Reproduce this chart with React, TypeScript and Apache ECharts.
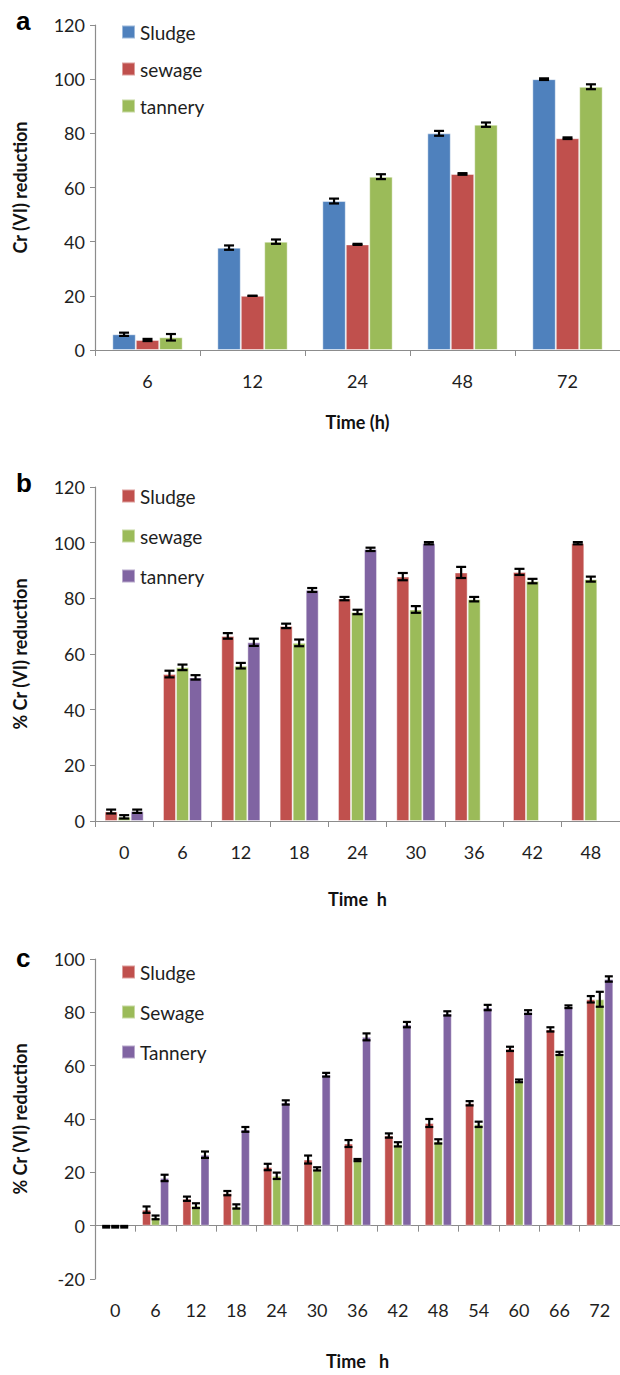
import React, { useEffect, useRef } from "react";
import * as echarts from "echarts";

// ---------- Panel a ----------
const categoriesA = ["6", "12", "24", "48", "72"];
const namesA = ["Sludge", "sewage", "tannery"];
const sludgeA = [5.8, 37.8, 55, 80, 100];
const sewageA = [3.7, 20, 39, 65, 78.2];
const tanneryA = [4.7, 40, 64, 83.2, 97.2];
const sludgeErrA = [0.6, 0.8, 0.9, 0.9, 0.3];
const sewageErrA = [0.4, 0, 0.2, 0.3, 0.3];
const tanneryErrA = [1.2, 0.8, 0.9, 0.8, 0.9];

// ---------- Panel b ----------
const categoriesB = ["0", "6", "12", "18", "24", "30", "36", "42", "48"];
const namesB = ["Sludge", "sewage", "tannery"];
const sludgeB = [3.4, 52.8, 66.5, 70.1, 79.9, 87.8, 89.3, 89.5, 99.8];
const sewageB = [1.5, 55.2, 55.8, 64, 75.1, 76, 79.7, 86.2, 86.9];
const tanneryB: (number | null)[] = [3.5, 51.6, 64.2, 83, 97.6, 99.8, null, null, null];
const sludgeErrB = [0.7, 1.2, 1.0, 0.8, 0.6, 1.3, 2.0, 1.1, 0.4];
const sewageErrB = [0.6, 1.0, 1.0, 1.2, 0.8, 1.2, 0.8, 0.8, 0.9];
const tanneryErrB: (number | null)[] = [0.6, 0.8, 1.3, 0.7, 0.6, 0.4, null, null, null];

// ---------- Panel c ----------
const categoriesC = ["0", "6", "12", "18", "24", "30", "36", "42", "48", "54", "60", "66", "72"];
const namesC = ["Sludge", "Sewage", "Tannery"];
const sludgeC = [-0.4, 6, 10.1, 12.2, 22, 24.8, 30.8, 33.8, 38.5, 45.9, 66.3, 73.6, 84.9];
const sewageC = [-0.4, 3.1, 7.5, 7.2, 18.7, 21.3, 24.6, 30.5, 31.6, 38, 54.3, 64.6, 84.9];
const tanneryC = [-0.4, 17.9, 26.6, 36.1, 46.2, 56.6, 70.8, 75.4, 79.6, 81.8, 80.1, 82.1, 92.5];
const sludgeErrC = [0.3, 1.2, 0.8, 0.8, 1.2, 1.5, 1.3, 0.8, 1.5, 0.8, 0.8, 0.8, 1.2];
const sewageErrC = [0.3, 0.7, 0.9, 0.8, 1.2, 0.6, 0.4, 0.8, 0.8, 1.0, 0.5, 0.6, 2.8];
const tanneryErrC = [0.3, 1.2, 1.2, 0.9, 0.8, 0.7, 1.3, 1.0, 0.8, 1.0, 0.7, 0.5, 1.0];

const BLUE = "#4F81BD";
const RED = "#C0504D";
const GREEN = "#9BBB59";
const PURPLE = "#8064A2";
const FONT = "Lato";
const AXIS = "#8C8C8C";
const TXT = "#1E1E1E";

const GAP = 0.33;

interface PanelCfg {
  categories: string[];
  names: string[];
  colors: string[];
  values: (number | null)[][];
  errors: (number | null)[][];
  yMin: number;
  yMax: number;
  gridTop: number;
  gridHeight: number;
  legendTop: number;
  legendGap: number;
  xName: string;
  yName: string;
  xNameGap: number;
  letter: string;
  letterY: number;
  capHalf: number;
}

function buildOption(p: PanelCfg): any {
  const series: any[] = [];
  p.values.forEach((vals, si) => {
    series.push({
      type: "bar",
      name: p.names[si],
      data: vals,
      barGap: "0%",
      barCategoryGap: GAP * 100 + "%",
      itemStyle: { color: p.colors[si], borderColor: "rgba(255,255,255,0.45)", borderWidth: 1 },
      z: 2,
    });
  });
  p.values.forEach((vals, si) => {
    const data: any[] = [];
    vals.forEach((v, i) => {
      const e = p.errors[si][i];
      if (v !== null && v !== undefined) data.push([i, v, e ?? 0]);
    });
    series.push({
      type: "custom",
      data,
      encode: { x: 0, y: 1 },
      z: 5,
      silent: true,
      renderItem: (params: any, api: any) => {
        const cat = api.value(0);
        const v = api.value(1);
        const e = api.value(2);
        const band = api.size([1, 0])[0];
        const bw = (band * (1 - GAP)) / 3;
        const c = api.coord([cat, v]);
        const x = c[0] + (si - 1) * bw;
        const yt = api.coord([cat, v + e])[1];
        const yb = api.coord([cat, v - e])[1];
        const h = p.capHalf;
        const st = { stroke: "#000", lineWidth: 2.2 };
        return {
          type: "group",
          children: [
            { type: "line", shape: { x1: x, y1: yt, x2: x, y2: yb }, style: st },
            { type: "line", shape: { x1: x - h, y1: yt, x2: x + h, y2: yt }, style: st },
            { type: "line", shape: { x1: x - h, y1: yb, x2: x + h, y2: yb }, style: st },
          ],
        };
      },
    });
  });

  return {
    animation: false,
    textStyle: { fontFamily: FONT },
    grid: { left: 95, width: 525, top: p.gridTop, height: p.gridHeight },
    legend: {
      data: p.names,
      orient: "vertical",
      left: 116,
      top: p.legendTop,
      itemGap: p.legendGap,
      itemWidth: 13,
      itemHeight: 13,
      icon: "rect",
      selectedMode: false,
      textStyle: { fontFamily: FONT, fontSize: 19, color: TXT, lineHeight: 20 },
    },
    xAxis: {
      type: "category",
      data: p.categories,
      name: p.xName,
      nameLocation: "middle",
      nameGap: p.xNameGap,
      nameTextStyle: { fontFamily: FONT, fontSize: 18, fontWeight: "bold", color: "#111" },
      axisLine: { show: true, onZero: true, lineStyle: { color: AXIS, width: 1.2 } },
      axisTick: { show: true, length: 6, interval: 0, lineStyle: { color: AXIS } },
      axisLabel: { fontFamily: FONT, fontSize: 18, color: TXT, margin: 22, interval: 0 },
    },
    yAxis: {
      type: "value",
      min: p.yMin,
      max: p.yMax,
      interval: 20,
      name: p.yName,
      nameLocation: "middle",
      nameRotate: 90,
      nameGap: 66,
      nameTextStyle: { fontFamily: FONT, fontSize: 18, fontWeight: "bold", color: "#111" },
      axisLine: { show: true, lineStyle: { color: AXIS, width: 1.2 } },
      axisTick: { show: true, length: 5, lineStyle: { color: AXIS } },
      axisLabel: { fontFamily: FONT, fontSize: 18, color: TXT, margin: 10 },
      splitLine: { show: false },
    },
    graphic: [
      {
        type: "text",
        left: 16,
        top: p.letterY,
        style: { text: p.letter, font: 'bold 26px "Liberation Sans"', fill: "#000" },
      },
    ],
    series,
  };
}

const panels: { top: number; height: number; cfg: PanelCfg }[] = [
  {
    top: 0,
    height: 450,
    cfg: {
      categories: categoriesA,
      names: namesA,
      colors: [BLUE, RED, GREEN],
      values: [sludgeA, sewageA, tanneryA],
      errors: [sludgeErrA, sewageErrA, tanneryErrA],
      yMin: 0,
      yMax: 120,
      gridTop: 25,
      gridHeight: 325,
      legendTop: 17,
      legendGap: 17,
      xName: "Time (h)",
      yName: "Cr (VI) reduction",
      xNameGap: 63,
      letter: "a",
      letterY: 8,
      capHalf: 5,
    },
  },
  {
    top: 450,
    height: 470,
    cfg: {
      categories: categoriesB,
      names: namesB,
      colors: [RED, GREEN, PURPLE],
      values: [sludgeB, sewageB, tanneryB],
      errors: [sludgeErrB, sewageErrB, tanneryErrB],
      yMin: 0,
      yMax: 120,
      gridTop: 37,
      gridHeight: 334,
      legendTop: 31,
      legendGap: 20,
      xName: "Time  h",
      yName: "% Cr (VI) reduction",
      xNameGap: 69,
      letter: "b",
      letterY: 20,
      capHalf: 5,
    },
  },
  {
    top: 920,
    height: 455,
    cfg: {
      categories: categoriesC,
      names: namesC,
      colors: [RED, GREEN, PURPLE],
      values: [sludgeC, sewageC, tanneryC],
      errors: [sludgeErrC, sewageErrC, tanneryErrC],
      yMin: -20,
      yMax: 100,
      gridTop: 39,
      gridHeight: 387,
      legendTop: 37,
      legendGap: 20,
      xName: "Time   h",
      yName: "% Cr (VI) reduction",
      xNameGap: 73,
      letter: "c",
      letterY: 25,
      capHalf: 4,
    },
  },
];

export default function App() {
  const r0 = useRef<HTMLDivElement>(null);
  const r1 = useRef<HTMLDivElement>(null);
  const r2 = useRef<HTMLDivElement>(null);
  const refs = [r0, r1, r2];

  useEffect(() => {
    const charts = refs.map((r, i) => {
      const c = echarts.init(r.current as HTMLDivElement, undefined, { renderer: "svg" });
      c.setOption(buildOption(panels[i].cfg));
      return c;
    });
    return () => charts.forEach((c) => c.dispose());
  }, []);

  return (
    <div style={{ position: "absolute", left: 0, top: 0, width: 620, height: 1375, background: "#fff" }}>
      {panels.map((p, i) => (
        <div
          key={i}
          ref={refs[i]}
          style={{ position: "absolute", left: 0, top: p.top, width: 620, height: p.height }}
        />
      ))}
    </div>
  );
}
